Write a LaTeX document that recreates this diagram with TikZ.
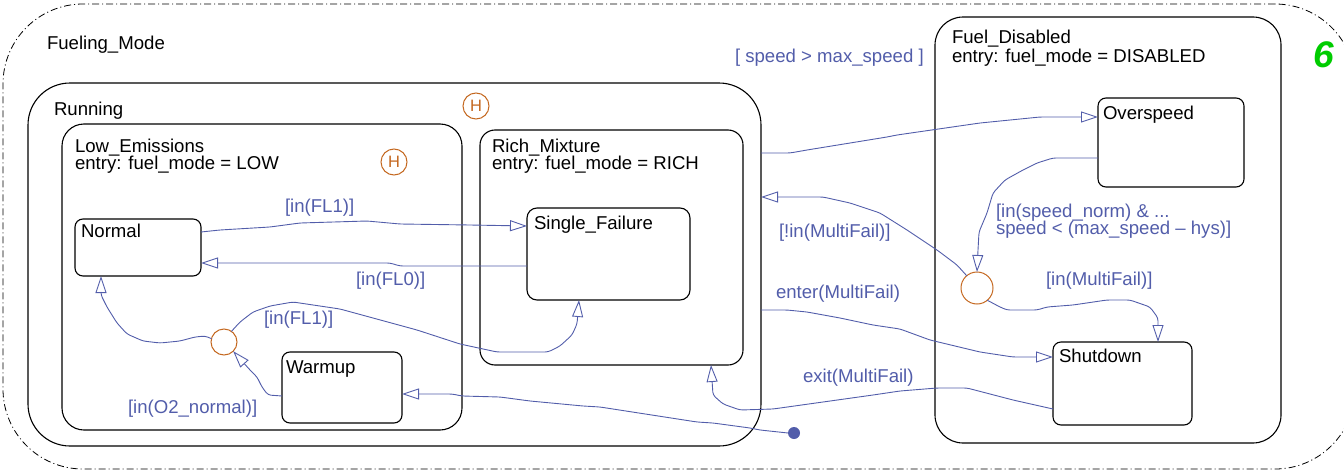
\documentclass[tikz,border=0pt]{standalone}
\usepackage{fontspec}
\setmainfont{Liberation Sans}
\usetikzlibrary{arrows.meta,calc}
\definecolor{trans}{RGB}{82,93,170}
\definecolor{junc}{RGB}{196,104,32}
\definecolor{chartno}{RGB}{0,204,0}
\begin{document}
\begin{tikzpicture}[x=1pt,y=-1pt,
  every node/.style={inner sep=0pt,outer sep=0pt},
  statebox/.style={draw=black,line width=1.1pt,rounded corners=#1,anchor=north west},
  lbl/.style={font=\fontsize{18.6}{18.6}\selectfont,text=black,anchor=base west},
  tlbl/.style={font=\fontsize{18.6}{18.6}\selectfont,text=trans,anchor=base west},
  tr/.style={draw=trans,line width=0.9pt,rounded corners=3pt,
    -{Triangle[open,length=17pt,width=11pt]}},
  junction/.style={circle,draw=junc,line width=1pt,minimum size=#1},
  hist/.style={circle,draw=junc,line width=1pt,minimum size=26pt,text=junc,
    font=\fontsize{16.5}{16.5}\selectfont},
]
\useasboundingbox (0,0) rectangle (1344,471);

% superstate Fueling_Mode (dash-dot border)
\node[statebox=80pt,line width=0.8pt,dash pattern=on 7pt off 3pt on 1pt off 3pt,
  minimum width=1352pt,minimum height=465pt] (fueling) at (3,4) {};
\node[lbl] (fueling-name) at (47,49) {Fueling\_Mode};

% Running and its substates
\node[statebox=42pt,minimum width=733pt,minimum height=363pt] (running) at (28,83) {};
\node[lbl] (running-name) at (54,115) {Running};
\node[hist] (hrun) at (476,106) {H};

\node[statebox=22pt,minimum width=400pt,minimum height=306pt] (lowe) at (62,124) {};
\node[lbl] (lowe-name) at (75,152) {Low\_Emissions};
\node[lbl] (lowe-entry) at (75,169) {entry: fuel\_mode = LOW};
\node[hist] (hlow) at (394,162) {H};

\node[statebox=8pt,minimum width=126pt,minimum height=57pt] (normal) at (75,219) {};
\node[lbl] (normal-name) at (81,237) {Normal};
\node[statebox=8pt,minimum width=120pt,minimum height=71pt] (warmup) at (282,352) {};
\node[lbl] (warmup-name) at (286,373) {Warmup};
\node[junction=26pt] (j1) at (224,342) {};

\node[statebox=15pt,minimum width=263pt,minimum height=235pt] (rich) at (480,130) {};
\node[lbl] (rich-name) at (492,152) {Rich\_Mixture};
\node[lbl] (rich-entry) at (492,169) {entry: fuel\_mode = RICH};
\node[statebox=10pt,minimum width=163pt,minimum height=92pt] (single) at (527,208) {};
\node[lbl] (single-name) at (534,229) {Single\_Failure};

% Fuel_Disabled and its substates
\node[statebox=28pt,minimum width=346pt,minimum height=426pt] (fueldis) at (935,17) {};
\node[lbl] (fueldis-name) at (952,43) {Fuel\_Disabled};
\node[lbl] (fueldis-entry) at (952,62) {entry: fuel\_mode = DISABLED};
\node[statebox=8pt,minimum width=146pt,minimum height=89pt] (overspeed) at (1098,98) {};
\node[lbl] (overspeed-name) at (1103,119) {Overspeed};
\node[statebox=8pt,minimum width=139pt,minimum height=83pt] (shutdown) at (1053,342) {};
\node[lbl] (shutdown-name) at (1059,362) {Shutdown};
\node[junction=32pt] (j2) at (977,288) {};

% default transition source
\node[circle,fill=trans,minimum size=12pt] (dflt) at (794,433) {};

% chart number
\node[font=\fontsize{37}{37}\selectfont\bfseries\itshape,text=chartno,anchor=base west]
  (chartnum) at (1313,67) {6};

% transitions
\draw[tr] ($(normal.north east)+(0,13)$) -- (220,230) -- (270,227) -- (300,223)
  -- (367,221) -- (400,224) -- (470,225) -- ($(single.north west)+(0,18)$);
\node[tlbl] (t-fl1a) at (285,212) {[in(FL1)]};

\draw[tr] ($(single.north west)+(0,58)$) -- (400,266) -- (390,263)
  -- ($(normal.north east)+(0,44)$);
\node[tlbl] (t-fl0) at (356,285) {[in(FL0)]};

\draw[tr] (j1.165) -- (205,336) -- (195,337) -- (180,341) -- (160,343) -- (143,341)
  -- (127,334) -- (117,323) -- (107,307) -- (101,295) -- ($(normal.south west)+(26,0)$);

\draw[tr] ($(warmup.north west)+(0,44)$) -- (268,395) -- (262,387) -- (257,377)
  -- (250,370) -- (j1.-45);
\node[tlbl] (t-o2) at (128,413) {[in(O2\_normal)]};

\draw[tr] (j1.55) -- (240,322) -- (253,312) -- (270,306) -- (293,302) -- (340,309)
  -- (417,330) -- (460,344) -- (497,352) -- (548,352) -- (560,346) -- (572,335)
  -- (577,324) -- ($(single.south west)+(52,0)$);
\node[tlbl] (t-fl1b) at (264,324) {[in(FL1)]};

\draw[tr] (dflt.west) -- (760,430) -- (750,428) -- (713,423) -- (697,422) -- (600,407)
  -- (583,406) -- (530,401) -- (500,397) -- (462,396) -- (452,394)
  -- ($(warmup.north east)+(0,42)$);

\draw[tr] ($(running.north east)+(0,70)$) -- (790,153) -- (807,150) -- (887,137)
  -- (897,135) -- (980,123) -- (1040,117) -- ($(overspeed.north west)+(0,19)$);
\node[tlbl] (t-speed) at (735,62) {[ speed > max\_speed ]};

\draw[tr] ($(overspeed.north west)+(0,60)$) -- (1053,158) -- (1037,163) -- (1023,170)
  -- (1005,180) -- (993,193) -- (987,213) -- (979,232) -- (978,250) -- (j2.north);
\node[tlbl] (t-norm1) at (996,217) {[in(speed\_norm) \& ...};
\node[tlbl] (t-norm2) at (996,234) {speed < (max\_speed – hys)]};

\draw[tr] (j2.130) -- (957,265) -- (937,250) -- (907,230) -- (880,213) -- (850,203)
  -- (823,197) -- ($(running.north east)+(0,114)$);
\node[tlbl] (t-notmf) at (779,237) {[!in(MultiFail)]};

\draw[tr] (j2.-50) -- (1000,307) -- (1007,310) -- (1037,310) -- (1047,307) -- (1073,305)
  -- (1107,300) -- (1130,300) -- (1150,307) -- (1158,318)
  -- ($(shutdown.north west)+(105,0)$);
\node[tlbl] (t-inmf) at (1046,285) {[in(MultiFail)]};

\draw[tr] ($(running.north east)+(0,227)$) -- (787,310) -- (807,312) -- (840,318)
  -- (873,325) -- (900,329) -- (930,340) -- (980,352) -- (1013,357)
  -- ($(shutdown.north west)+(0,15)$);
\node[tlbl] (t-enter) at (776,298) {enter(MultiFail)};

\draw[tr] ($(shutdown.north west)+(0,67)$) -- (1013,400) -- (967,388) -- (937,388)
  -- (900,391) -- (873,395) -- (773,409) -- (740,410) -- (723,404) -- (713,395)
  -- ($(rich.south east)+(-32,0)$);
\node[tlbl] (t-exit) at (803,382) {exit(MultiFail)};
\end{tikzpicture}
\end{document}
